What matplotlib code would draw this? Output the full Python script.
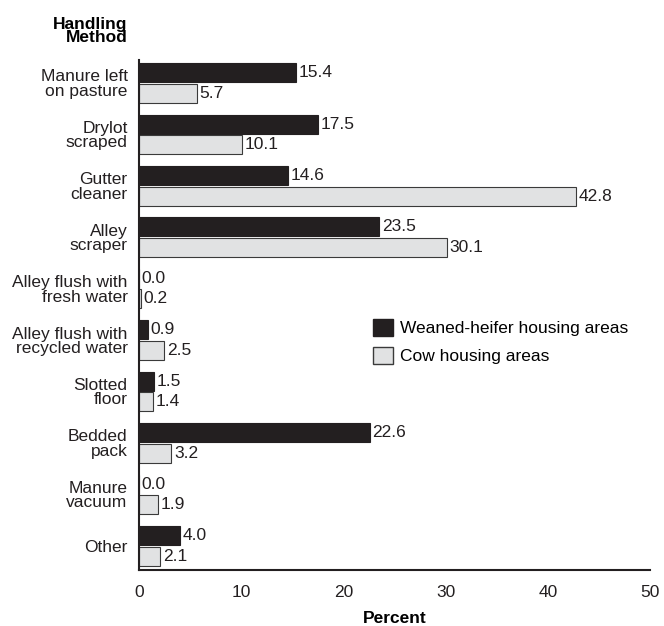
import numpy as np
import matplotlib.pyplot as plt
from matplotlib.patches import Patch

plt.rcParams['font.family'] = ['Liberation Sans', 'DejaVu Sans']

# Data
methods = ["Manure left\non pasture", "Drylot\nscraped", "Gutter\ncleaner", "Alley\nscraper",
           "Alley flush with\nfresh water", "Alley flush with\nrecycled water", "Slotted\nfloor",
           "Bedded\npack", "Manure\nvacuum", "Other"]
heifer = [15.4, 17.5, 14.6, 23.5, 0.0, 0.9, 1.5, 22.6, 0.0, 4.0]
cow = [5.7, 10.1, 42.8, 30.1, 0.2, 2.5, 1.4, 3.2, 1.9, 2.1]

dark = '#231f20'
light = '#e1e2e3'
edge = '#3a3a3a'
fs = 12.5

fig = plt.figure(figsize=(6.64, 6.26), dpi=100)
ax = fig.add_axes([0.209, 0.0895, 0.77, 0.815])

y = np.arange(len(methods))
h = 0.37
off = 0.2
ax.barh(y - off, heifer, height=h, color=dark, edgecolor=dark, linewidth=0.8)
ax.barh(y + off, cow, height=h, color=light, edgecolor=edge, linewidth=0.8)

for yi, v in zip(y, heifer):
    ax.text(v + 0.25, yi - off, f"{v:.1f}", va='center', ha='left', fontsize=fs, color=dark)
for yi, v in zip(y, cow):
    ax.text(v + 0.25, yi + off, f"{v:.1f}", va='center', ha='left', fontsize=fs, color=dark)

ax.set_xlim(0, 50)
ax.set_ylim(9.47, -0.45)
ax.set_yticks(y)
ax.set_yticklabels(methods, fontsize=fs, linespacing=0.95)
ax.set_xticks([0, 10, 20, 30, 40, 50])
ax.tick_params(axis='both', length=0, labelsize=fs, colors=dark)
ax.tick_params(axis='y', pad=8)
ax.tick_params(axis='x', pad=11)
for s in ['top', 'right']:
    ax.spines[s].set_visible(False)
for s in ['left', 'bottom']:
    ax.spines[s].set_linewidth(1.5)
    ax.spines[s].set_color(dark)

ax.set_xlabel('Percent', fontsize=fs, fontweight='bold', labelpad=8)
fig.text(0.192, 0.928, 'Handling\nMethod', ha='right', va='bottom', fontsize=fs,
         fontweight='bold', linespacing=0.85)

handles = [Patch(facecolor=dark, edgecolor=dark), Patch(facecolor=light, edgecolor=edge)]
ax.legend(handles, ['Weaned-heifer housing areas', 'Cow housing areas'],
          loc='upper left', bbox_to_anchor=(0.458, 0.492), frameon=False, fontsize=fs,
          handlelength=1.15, handleheight=1.15, handletextpad=0.4, labelspacing=0.6,
          borderpad=0, borderaxespad=0)

fig.savefig('out.png', dpi=100)
